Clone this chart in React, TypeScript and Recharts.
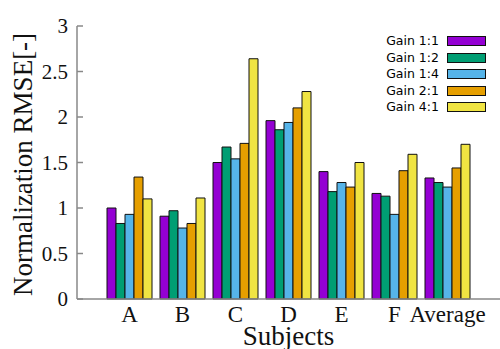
import React from 'react';
import { BarChart, Bar, XAxis, YAxis, Legend, Label } from 'recharts';

const categories = ['A', 'B', 'C', 'D', 'E', 'F', 'Average'];
const gain11 = [1.0, 0.91, 1.5, 1.96, 1.4, 1.16, 1.33];
const gain12 = [0.83, 0.97, 1.67, 1.86, 1.18, 1.13, 1.28];
const gain14 = [0.93, 0.78, 1.54, 1.94, 1.28, 0.93, 1.23];
const gain21 = [1.34, 0.83, 1.71, 2.1, 1.23, 1.41, 1.44];
const gain41 = [1.1, 1.11, 2.64, 2.28, 1.5, 1.59, 1.7];
const yTicks = [0, 0.5, 1, 1.5, 2, 2.5, 3];

const seriesNames = ['Gain 1:1', 'Gain 1:2', 'Gain 1:4', 'Gain 2:1', 'Gain 4:1'];
const seriesValues = [gain11, gain12, gain14, gain21, gain41];
const seriesColors = ['#9400D3', '#009E73', '#56B4E9', '#E69F00', '#F0E442'];

const data = categories.map((name, i) => {
  const row: Record<string, string | number> = { name };
  seriesNames.forEach((s, k) => {
    row[s] = seriesValues[k][i];
  });
  return row;
});

const SERIF = "'Liberation Serif', 'Times New Roman', serif";

const LegendContent = (props: any) => {
  const payload = props.payload || [];
  return (
    <div style={{ display: 'flex', flexDirection: 'column' }}>
      {payload.map((p: any) => (
        <div
          key={p.value}
          style={{
            height: 16.5,
            display: 'flex',
            alignItems: 'center',
            justifyContent: 'flex-end',
          }}
        >
          <span
            style={{
              fontFamily: "'DejaVu Sans', sans-serif",
              fontSize: 12.5,
              color: '#000',
              marginRight: 8,
              lineHeight: '16.5px',
            }}
          >
            {p.value}
          </span>
          <span
            style={{
              display: 'inline-block',
              width: 37,
              height: 8,
              background: p.color,
              border: '1px solid #111',
            }}
          />
        </div>
      ))}
    </div>
  );
};

const YLabel = (props: any) => {
  const vb = props.viewBox || { x: 0, y: 0, width: 0, height: 0 };
  const x = vb.x + 32;
  const y = vb.y + vb.height / 2 + 2;
  return (
    <text
      x={x}
      y={y}
      transform={`rotate(-90, ${x}, ${y})`}
      textAnchor="middle"
      fontFamily={SERIF}
      fontSize={27}
      fill="#111"
    >
      Normalization RMSE[-]
    </text>
  );
};

export default function App() {
  return (
    <div style={{ position: 'absolute', left: 0, top: 0, width: 500, height: 349, background: '#fff' }}>
      <BarChart
        width={500}
        height={349}
        data={data}
        margin={{ top: 26, right: 0, bottom: 0, left: 0 }}
        barCategoryGap={4}
        barGap={0}
      >
        <XAxis
          dataKey="name"
          height={50}
          padding={{ left: 26, right: 26 }}
          axisLine={{ stroke: '#888', strokeWidth: 1.5 }}
          tickLine={false}
          tickSize={0}
          tickMargin={7}
          interval={0}
          tick={{ fontFamily: SERIF, fontSize: 23, fill: '#111' }}
        >
          <Label
            value="Subjects"
            position="insideBottom"
            offset={4}
            style={{ fontFamily: SERIF, fontSize: 27, fill: '#111' }}
          />
        </XAxis>
        <XAxis
          xAxisId="top"
          orientation="top"
          dataKey="name"
          height={0}
          padding={{ left: 26, right: 26 }}
          axisLine={{ stroke: '#222', strokeWidth: 1.5 }}
          tickLine={{ stroke: '#888', strokeWidth: 1.5 }}
          tickSize={-6}
          tick={false}
          interval={0}
        />
        <YAxis
          width={77}
          type="number"
          domain={[0, 3]}
          ticks={yTicks}
          interval={0}
          axisLine={{ stroke: '#888', strokeWidth: 1.5 }}
          tickLine={{ stroke: '#888', strokeWidth: 1.5 }}
          tickSize={-6}
          tickMargin={15}
          tick={{ fontFamily: SERIF, fontSize: 21, fill: '#111' }}
          label={<YLabel />}
        />
        <YAxis
          yAxisId="right"
          orientation="right"
          width={0}
          type="number"
          domain={[0, 3]}
          ticks={yTicks}
          interval={0}
          axisLine={false}
          tickLine={{ stroke: '#888', strokeWidth: 1.5 }}
          tickSize={-7}
          tick={false}
        />
        <Legend
          layout="horizontal"
          verticalAlign="middle"
          align="center"
          content={<LegendContent />}
          wrapperStyle={{ position: 'absolute', top: 33, left: 375, width: 111 }}
        />
        {seriesNames.map((s, k) => (
          <Bar
            key={s}
            dataKey={s}
            name={s}
            fill={seriesColors[k]}
            stroke="#111"
            strokeWidth={1}
            isAnimationActive={false}
          />
        ))}
      </BarChart>
    </div>
  );
}
